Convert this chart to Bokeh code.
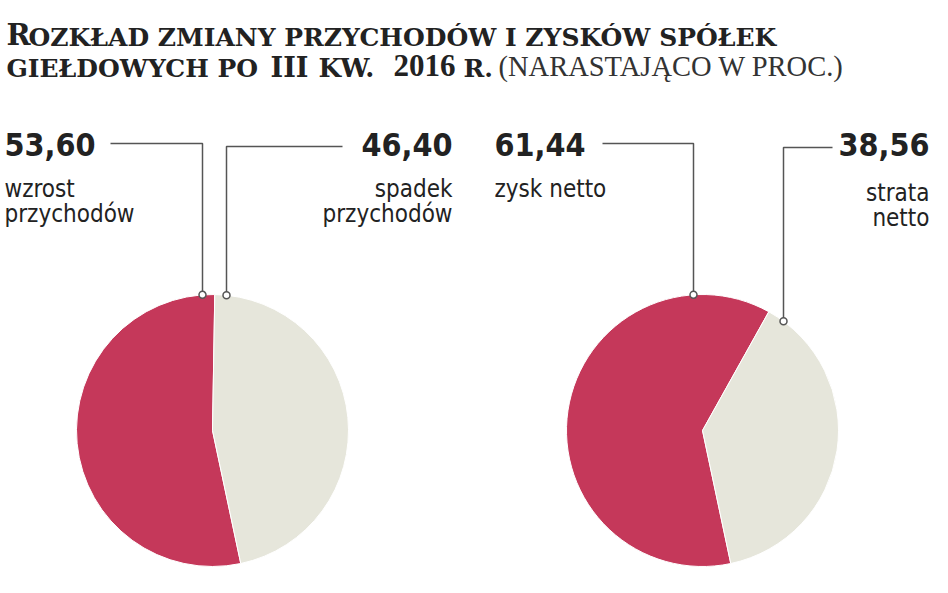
import math
from bokeh.plotting import figure
from bokeh.models import Range1d, ColumnDataSource
from bokeh.core.properties import value
from bokeh.embed import file_html
from bokeh.resources import INLINE

# ---------------- data ----------------
left_labels = [["wzrost", "przychodów"], ["spadek", "przychodów"]]
left_values = [53.60, 46.40]
right_labels = [["zysk netto"], ["strata", "netto"]]
right_values = [61.44, 38.56]

title_big_1 = "R"
title_small_1 = "OZKŁAD ZMIANY PRZYCHODÓW I ZYSKÓW SPÓŁEK"
title_small_2a = "GIEŁDOWYCH PO"
title_big_2 = "III"
title_small_2b = "KW."
title_year = "2016"
title_small_2c = "R."
subtitle = "(NARASTAJĄCO W PROC.)"

slice_colors = ["#C5385A", "#E6E6DB"]

# ---------------- layout helpers ----------------
W, H = 932, 577
BASE_K = 0.42  # empirical shift of the alphabetic baseline, in em


def X(rx):
    return rx


def Y(ry):
    return H - ry


p = figure(width=W, height=H, x_range=Range1d(0, W), y_range=Range1d(0, H),
           output_backend="svg", toolbar_location=None,
           x_axis_location=None, y_axis_location=None, min_border=0)
p.grid.visible = False
p.outline_line_color = None
p.background_fill_color = "white"
p.border_fill_color = "white"

SANS = value("DejaVu Sans Condensed, DejaVu Sans, sans-serif")
TITLE_FONT = value("DejaVu Serif")
SUB_FONT = value("Liberation Serif")
TEXT_COLOR = "#222222"
LINE_COLOR = "#555555"

R = 136
CY = 430
ANCHOR = math.radians(282)


def fmt(v):
    return f"{v:.2f}".replace(".", ",")


def tt(x, base, t, size, font, style="normal", color=TEXT_COLOR, align="left"):
    p.text([X(x)], [Y(base - BASE_K * size)], text=[t], text_font=font,
           text_font_style=style, text_font_size=f"{size}px", text_color=color,
           text_align=align, text_baseline="alphabetic")


def pie(cx, vals):
    f0 = vals[0] / sum(vals)
    starts = [ANCHOR - f0 * 2 * math.pi, ANCHOR]
    ends = [ANCHOR, ANCHOR + (1 - f0) * 2 * math.pi]
    src = ColumnDataSource(dict(x=[X(cx)] * 2, y=[Y(CY)] * 2, s=starts, e=ends, c=slice_colors))
    p.wedge(x="x", y="y", radius=R, start_angle="s", end_angle="e", fill_color="c",
            line_color="white", line_width=1, source=src)


def leader(cx, dx, yh, xend):
    xa = cx + dx
    ya = CY - math.sqrt(R * R - dx * dx)
    p.line([X(xend), X(xa), X(xa)], [Y(yh), Y(yh), Y(ya)], line_color=LINE_COLOR, line_width=1.5)
    p.scatter([X(xa)], [Y(ya)], size=7, marker="circle", fill_color="white",
              line_color=LINE_COLOR, line_width=1.5)


def label(x, vals_text, lines, align, b0=199):
    tt(x, 157, vals_text, 32, SANS, style="bold", align=align)
    for i, ln in enumerate(lines):
        tt(x, b0 + 25 * i, ln, 24, SANS, align=align)


# pies
pie(212, left_values)
pie(702, right_values)

# leaders
leader(212, -10, 143, 110)
leader(212, 14, 146, 342)
leader(702, -9, 143, 602)
leader(702, 81, 147, 832)

# labels
label(4, fmt(left_values[0]), left_labels[0], "left")
label(452, fmt(left_values[1]), left_labels[1], "right")
label(494, fmt(right_values[0]), right_labels[0], "left")
label(929, fmt(right_values[1]), right_labels[1], "right", b0=203)

# title
tt(6, 47, title_big_1, 29, TITLE_FONT, style="bold")
tt(28, 47, title_small_1, 25, TITLE_FONT, style="bold")
tt(6, 78, title_small_2a, 25, TITLE_FONT, style="bold")
tt(270, 78, title_big_2, 27, TITLE_FONT, style="bold")
tt(318, 78, title_small_2b, 26, TITLE_FONT, style="bold")
tt(393, 78, title_year, 31, value("Liberation Serif"), style="bold")
tt(463, 78, title_small_2c, 25, TITLE_FONT, style="bold")
tt(498, 78, subtitle, 28.5, SUB_FONT, color="#333333")

open("out.html", "w").write(file_html(p, INLINE))
